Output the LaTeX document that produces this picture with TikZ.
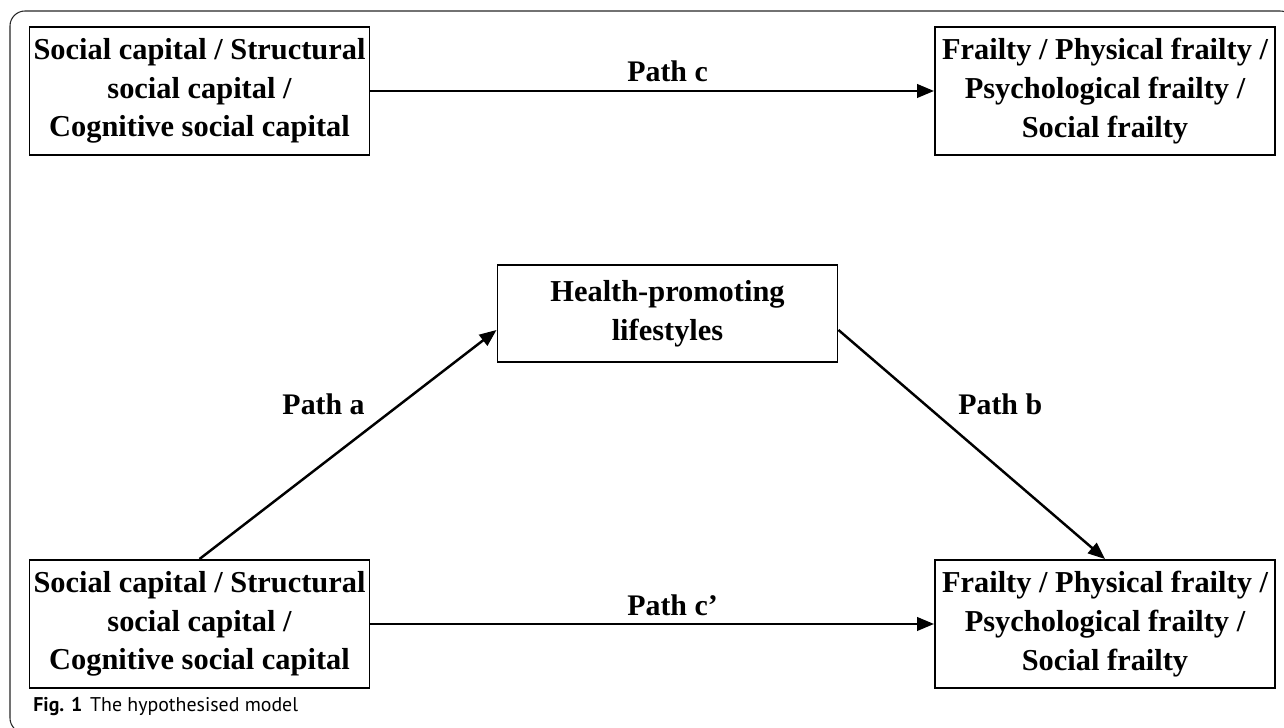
\documentclass[tikz,border=0pt]{standalone}
\usepackage{fontspec}
\setmainfont{Liberation Serif}
\newfontfamily\capfont{PT Sans}
\usetikzlibrary{arrows.meta}

\tikzset{
  varbox/.style={draw, line width=1.1pt, align=center,
    minimum width=6.8cm, minimum height=2.56cm, inner sep=0.03cm,
    font=\bfseries\fontsize{17.3}{22}\selectfont},
  pathlbl/.style={inner sep=0pt, font=\bfseries\fontsize{17}{20}\selectfont},
}

\begin{document}
\begin{tikzpicture}[>={Triangle[length=0.34cm,width=0.27cm]}]
\useasboundingbox (0,0) rectangle (25.68,14.56);
% frame round the figure
\draw[black!85, line width=0.6pt, rounded corners=0.3cm] (0.2,-0.1) rectangle (25.9,14.34);

% total effect
\node[varbox] (sctop) at (3.99,12.74) {Social capital / Structural\\ social capital /\\ Cognitive social capital};
\node[varbox] (frtop) at (22.1,12.74) {Frailty / Physical frailty /\\ Psychological frailty /\\ Social frailty};
\draw[line width=1.4pt,->] (sctop) -- (frtop);
\node[pathlbl, anchor=base west] (pc) at (12.54,12.92) {Path c};

% mediation model
\node[varbox, minimum height=1.94cm] (hpl) at (13.35,8.29) {Health-promoting\\ lifestyles};
\node[varbox] (scbot) at (3.99,2.08) {Social capital / Structural\\ social capital /\\ Cognitive social capital};
\node[varbox] (frbot) at (22.1,2.08) {Frailty / Physical frailty /\\ Psychological frailty /\\ Social frailty};
\draw[line width=1.4pt,->] (scbot.north) -- ([yshift=-0.33cm]hpl.west);
\draw[line width=1.4pt,->] ([yshift=-0.33cm]hpl.east) -- (frbot.north);
\draw[line width=1.4pt,->] (scbot) -- (frbot);
\node[pathlbl, anchor=base east] (pa) at (7.30,6.26) {Path a};
\node[pathlbl, anchor=base west] (pb) at (19.16,6.26) {Path b};
\node[pathlbl, anchor=base west] (pcp) at (12.54,2.24) {Path c’};

% caption
\node[anchor=base west, inner sep=0pt, font=\capfont\fontsize{11.3}{13}\selectfont] (cap) at (0.66,0.32) {\textbf{Fig. 1}\hspace{0.4em}The hypothesised model};
\end{tikzpicture}
\end{document}
